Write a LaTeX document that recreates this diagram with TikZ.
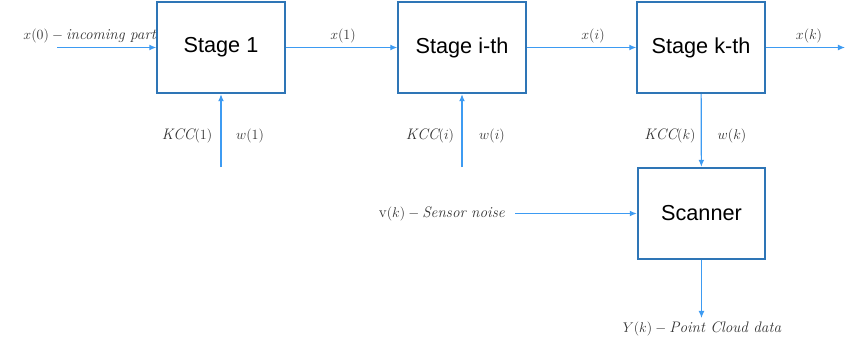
\documentclass[tikz,border=0pt]{standalone}
\usepackage{fontspec}
\setsansfont{Liberation Sans}
\usetikzlibrary{arrows.meta}
\definecolor{boxblue}{HTML}{2E75B6}
\definecolor{flowblue}{HTML}{3D9BF2}

\begin{document}
\begin{tikzpicture}[x=0.03cm,y=-0.03cm,
  block/.style={draw=boxblue,line width=1.7pt,minimum width=3.82cm,minimum height=2.74cm,inner sep=0pt,font=\sffamily\fontsize{18.5}{20}\selectfont},
  flow/.style={draw=flowblue,line width=1pt,-{Latex[length=6pt,width=5pt]}},
  lbl/.style={font=\fontsize{13}{15}\selectfont,text=black!80,inner sep=0pt}]
\useasboundingbox (0,0) rectangle (845,342);
% stages and scanner
\node[block] (stage1) at (221,47.5) {Stage 1};
\node[block] (stagei) at (462,47.5) {Stage i-th};
\node[block] (stagek) at (701,47.5) {Stage k-th};
\node[block] (scanner) at (701.5,213.5) {Scanner};
% free ends
\coordinate (part) at (57,47.5);
\coordinate (xout) at (845,47.5);
\coordinate (kcc1) at (221,167);
\coordinate (kcci) at (462,167);
\coordinate (noise) at (515,213.5);
\coordinate (cloud) at (701.5,318);
% connectors
\draw[flow] (part) -- (stage1);
\draw[flow] (stage1) -- (stagei);
\draw[flow] (stagei) -- (stagek);
\draw[flow] (stagek) -- (xout);
\draw[flow] (kcc1) -- (stage1);
\draw[flow] (kcci) -- (stagei);
\draw[flow] (stagek) -- (scanner);
\draw[flow] (noise) -- (scanner);
\draw[flow] (scanner) -- (cloud);
% labels
\node[lbl,anchor=east] (lpart) at (156,36) {$x(0) - \textit{incoming part}$};
\node[lbl] (lx1) at (343,36) {$x(1)$};
\node[lbl] (lxi) at (593,36) {$x(i)$};
\node[lbl] (lxk) at (809,36) {$x(k)$};
\node[lbl] (lkcc1) at (187,136) {$\mathit{KCC}(1)$};
\node[lbl] (lw1) at (250,136) {$w(1)$};
\node[lbl] (lkcci) at (430,136) {$\mathit{KCC}(i)$};
\node[lbl] (lwi) at (492,136) {$w(i)$};
\node[lbl] (lkcck) at (670,136) {$\mathit{KCC}(k)$};
\node[lbl] (lwk) at (732,136) {$w(k)$};
\node[lbl,anchor=east] (lnoise) at (505,214) {$\mathrm{v}(k) - \textit{Sensor noise}$};
\node[lbl] (lcloud) at (702,329) {$Y(k) - \textit{Point Cloud data}$};
\end{tikzpicture}
\end{document}
